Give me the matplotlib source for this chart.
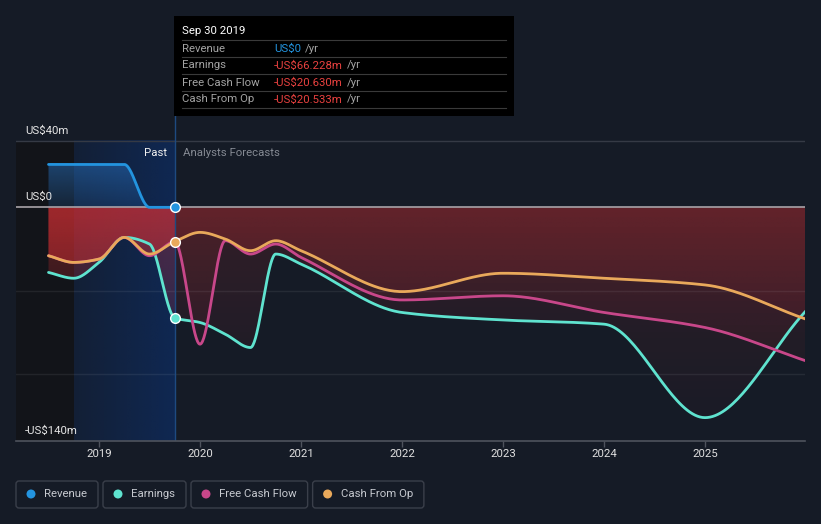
#Imports packages and dependencies
import numpy as np
import matplotlib
matplotlib.use('Agg')
import matplotlib.pyplot as plt
from matplotlib.patches import Rectangle, FancyBboxPatch

W, H = 821, 524
BG = '#151b26'
FS = 8.2
plt.rcParams['font.family'] = ['Roboto', 'DejaVu Sans']

#Data in US$ millions, dates as decimal years
past_t = [2018.5, 2018.75, 2019.0, 2019.25, 2019.5, 2019.75]
revenue = [25.7, 25.7, 25.7, 25.7, 0.0, 0.0]
all_t = past_t + [2020.0, 2020.25, 2020.5, 2020.75, 2021.0, 2022.0, 2023.0, 2024.0, 2025.0, 2026.0]
earnings = [-39, -42.5, -33, -18, -22, -66.228, -69, -76, -84, -28, -34, -63, -67.5, -70, -126, -62]
free_cash_flow = [-29, -33, -31, -18, -29, -20.630, -82, -20, -28, -22, -30, -55.5, -53, -63, -72, -92]
cash_from_op = [-29, -33, -31, -18, -28, -20.533, -15, -19, -26, -20, -26, -50.5, -39.5, -42.5, -46.5, -67]

years = [2019, 2020, 2021, 2022, 2023, 2024, 2025]
y_label_vals = [40, 0, -140]
y_labels = ['US$40m', 'US$0', '-US$140m']
now_t = 2019.75

series_names = ['Revenue', 'Earnings', 'Free Cash Flow', 'Cash From Op']
series_colors = ['#2394df', '#5fe3cf', '#c8478a', '#e9a95b']

tip_title = 'Sep 30 2019'
tip_values = ['US$0', '-US$66.228m', '-US$20.630m', '-US$20.533m']
tip_colors = ['#2394df', '#e8413f', '#e8413f', '#e8413f']


#Monotone cubic curve, like the smooth lines of the original chart
def smooth(x, y, n=40):
  x = np.asarray(x, float)
  y = np.asarray(y, float)
  h = np.diff(x)
  d = np.diff(y) / h
  m = np.zeros_like(y)
  m[0], m[-1] = d[0], d[-1]
  for i in range(1, len(y) - 1):
    if d[i-1] * d[i] <= 0:
      m[i] = 0
    else:
      w1 = 2*h[i] + h[i-1]
      w2 = h[i] + 2*h[i-1]
      m[i] = (w1 + w2) / (w1/d[i-1] + w2/d[i])
  xs, ys = [], []
  t = np.linspace(0, 1, n, endpoint=False)
  for i in range(len(h)):
    h00 = 2*t**3 - 3*t**2 + 1
    h10 = t**3 - 2*t**2 + t
    h01 = -2*t**3 + 3*t**2
    h11 = t**3 - t**2
    xs.append(x[i] + t*h[i])
    ys.append(h00*y[i] + h10*h[i]*m[i] + h01*y[i+1] + h11*h[i]*m[i+1])
  xs.append([x[-1]])
  ys.append([y[-1]])
  return np.concatenate(xs), np.concatenate(ys)


def P(px, py):
  return (px/100, (H-py)/100)


fig = plt.figure(figsize=(W/100, H/100), dpi=100, facecolor=BG)
ax = fig.add_axes([16/W, (H-441)/H, (805-16)/W, (441-16)/H])
ax.set_facecolor(BG)
px_m = (208-141)/40
ytop = 40 + (141-16)/px_m
x0 = 2019 + (16-99)/101
x1 = 2019 + (805-99)/101

#Left dark strip and past blue overlay
ax.add_patch(Rectangle((x0, -140), 2018.75-x0, 180, facecolor='#121419', edgecolor='none', zorder=0.5))
grad = np.zeros((2, 200, 4))
grad[..., :3] = np.array([12, 48, 110]) / 255
grad[..., 3] = np.linspace(0.22, 0.62, 200)[None, :]
ax.imshow(grad, extent=[2018.75, now_t, -140, 40], aspect='auto', origin='lower', zorder=0.6, interpolation='bilinear')

#Red gradient fills under each negative series
xg = np.linspace(x0, x1, 500)
yg = np.linspace(-140, 0, 200)
amax = np.where(xg <= now_t, 0.34, 0.16)
red = np.zeros((200, 500, 4))
red[..., :3] = np.array([215, 48, 52]) / 255
red[..., 3] = amax[None, :] * (0.15 + 0.85*((yg[:, None] + 140)/140)**1.3)
for vals in [earnings, free_cash_flow, cash_from_op]:
  sx, sy = smooth(all_t, vals)
  poly = ax.fill_between(sx, sy, 0, facecolor='none', edgecolor='none')
  im = ax.imshow(red, extent=[x0, x1, -140, 0], aspect='auto', origin='lower', zorder=1, interpolation='bilinear')
  im.set_clip_path(poly.get_paths()[0], transform=ax.transData)
  poly.remove()

#Revenue blue fill
rx, ry = smooth(past_t, revenue)
blue = np.zeros((100, 2, 4))
blue[..., :3] = np.array([40, 115, 195]) / 255
blue[..., 3] = np.linspace(0.18, 0.5, 100)[:, None]
poly = ax.fill_between(rx, ry, 0, facecolor='none', edgecolor='none')
im = ax.imshow(blue, extent=[x0, now_t, 0, 26], aspect='auto', origin='lower', zorder=1, interpolation='bilinear')
im.set_clip_path(poly.get_paths()[0], transform=ax.transData)
poly.remove()

#Gridlines
ax.axhline(40, color='#353a45', lw=1, zorder=1.5)
for g in [-50, -100]:
  ax.axhline(g, color='white', alpha=0.07, lw=1, zorder=1.5)
ax.axhline(0, color='#a9a3a8', lw=1.2, zorder=1.6)
ax.plot([now_t, now_t], [-140, ytop], color='#1e4a80', lw=1, zorder=1.7)

#Lines
ax.plot(rx, ry, color=series_colors[0], lw=2, zorder=3, solid_capstyle='round')
for vals, col in zip([earnings, free_cash_flow, cash_from_op], series_colors[1:]):
  sx, sy = smooth(all_t, vals)
  ax.plot(sx, sy, color=col, lw=2, zorder=3, solid_capstyle='round')

#Markers at the tooltip date
i_now = past_t.index(now_t)
for vals, col in [(revenue, series_colors[0]), (earnings, series_colors[1]), (cash_from_op, series_colors[3])]:
  ax.plot(now_t, vals[i_now], 'o', ms=7, color=col, mec='white', mew=1, zorder=4)

ax.set_xlim(x0, x1)
ax.set_ylim(-140, ytop)

#Axes
for s in ['top', 'right', 'left']:
  ax.spines[s].set_visible(False)
ax.spines['bottom'].set_color('#4e535d')
ax.spines['bottom'].set_linewidth(1.2)
ax.set_yticks([])
ax.set_xticks(years)
ax.set_xticklabels([str(y) for y in years])
ax.tick_params(axis='x', colors='#4e535d', length=4, width=1, pad=1.5, labelcolor='#e0e0e0', labelsize=FS)

for v, lab in zip(y_label_vals, y_labels):
  ax.annotate(lab, xy=(0, v), xycoords=('axes fraction', 'data'), xytext=(9, 7),
              textcoords='offset pixels', va='baseline', ha='left', color='#e6e6e6', fontsize=FS, zorder=5)

ax.annotate('Past', xy=(now_t, 40), xytext=(-8, -12), textcoords='offset pixels',
            ha='right', va='center', color='#f0f0f0', fontsize=FS, zorder=5)
ax.annotate('Analysts Forecasts', xy=(now_t, 40), xytext=(8, -12), textcoords='offset pixels',
            ha='left', va='center', color='#858a93', fontsize=FS, zorder=5)

#Tooltip
tr = fig.dpi_scale_trans
fig.patches.append(Rectangle(P(174, 116), 340/100, 100/100, transform=tr, facecolor='black', edgecolor='none', zorder=5))
fig.text(*P(182, 31), tip_title, transform=tr, color='white', fontsize=FS, va='center', zorder=6)
renderer = fig.canvas.get_renderer()
for k, (lab, val, col) in enumerate(zip(series_names, tip_values, tip_colors)):
  ry_px = 48.5 + k*17
  sep = 40 + k*17
  fig.add_artist(plt.Line2D([182/100, 506/100], [(H-sep)/100]*2, transform=tr, color='#3a3a3a', lw=0.8, zorder=6))
  fig.text(*P(182, ry_px), lab, transform=tr, color='#a3a3a3', fontsize=FS, va='center', zorder=6)
  t = fig.text(*P(274, ry_px), val, transform=tr, color=col, fontsize=FS, va='center', zorder=6)
  bb = t.get_window_extent(renderer)
  fig.text((bb.x1 + 4)/fig.dpi, (H-ry_px)/100, '/yr', transform=tr, color='#a3a3a3', fontsize=FS, va='center', zorder=6)
fig.add_artist(plt.Line2D([182/100, 506/100], [(H-108)/100]*2, transform=tr, color='#3a3a3a', lw=0.8, zorder=6))

#Legend
lx = 16
for name, col in zip(series_names, series_colors):
  t = fig.text(*P(lx + 28, 494), name, transform=tr, color='#c6c9cf', fontsize=FS, va='center', zorder=6)
  bb = t.get_window_extent(renderer)
  right = bb.x1 + 11
  fig.patches.append(FancyBboxPatch(P(lx, 508), (right-lx)/100, 27/100, transform=tr,
                                    boxstyle='round,pad=0,rounding_size=0.03', facecolor='none',
                                    edgecolor='#3a3f4a', lw=1, zorder=5))
  fig.patches.append(matplotlib.patches.Circle(P(lx + 15, 494), 0.045, transform=tr, facecolor=col, edgecolor='none', zorder=6))
  lx = right + 5

fig.savefig('out.png', dpi=100, facecolor=BG)
